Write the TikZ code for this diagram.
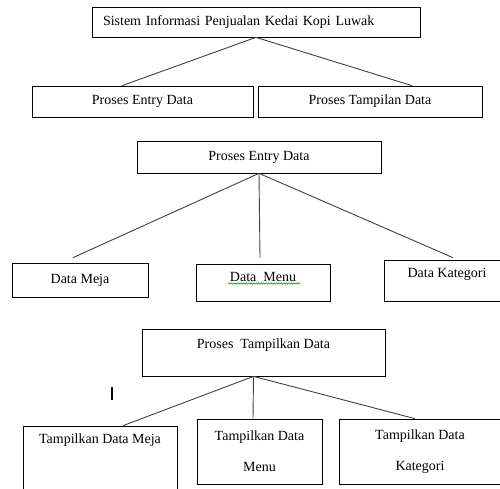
\documentclass[tikz,border=0pt]{standalone}
\usepackage{fontspec}
\setmainfont{Liberation Serif}
\usetikzlibrary{decorations.pathmorphing}
\newcommand{\lift}[2]{\raisebox{#1}[0pt][0pt]{#2}}

\begin{document}
\begin{tikzpicture}[x=1pt, y=-1pt]
            \tikzset{box/.style={draw, line width=0.7pt, inner sep=0pt, minimum width=#1, font={\fontsize{14}{16}\selectfont}}}
            \tikzset{link/.style={draw=black!75, line width=0.9pt}}
            \useasboundingbox (0, 0) rectangle (500, 488);

            \node[box=328pt, minimum height=30pt, text width=306pt, align=left, inner xsep=11pt,
                  font={\fontsize{14}{16}\selectfont\spaceskip=7.4pt}] (sistem) at (256, 22) {Sistem Informasi Penjualan Kedai Kopi Luwak};
            \node[box=221pt, minimum height=31pt] (entry) at (142.5, 101.5) {Proses Entry Data};
            \node[box=224pt, minimum height=31pt] (tampil) at (370, 101.5) {Proses Tampilan Data};
            \draw[link] (sistem.south) -- ([xshift=-20.5pt]entry.north);
            \draw[link] (sistem.south) -- ([xshift=42pt]tampil.north);

            \node[box=244pt, minimum height=32pt] (entrydata) at (259, 157) {Proses Entry Data};
            \node[box=136pt, minimum height=34pt] (meja) at (80, 280) {Data Meja};
            \node[box=134pt, minimum height=37pt] (menu) at (263, 282.5) {\lift{1pt}{Data\ \ Menu}};
            \node[box=126pt, minimum height=41pt] (kategori) at (447, 280.5) {\lift{3pt}{Data Kategori}};
            \draw[link] (entrydata.south) -- ([xshift=-7pt, yshift=5pt]meja.north);
            \draw[link] (entrydata.south) -- ([xshift=-3pt, yshift=6pt]menu.north);
            \draw[link] (entrydata.south) -- ([xshift=6pt, yshift=2pt]kategori.north);
            \draw[green!55!black, line width=0.5pt, decorate, decoration={snake, amplitude=0.7pt, segment length=2.5pt}]
                ([xshift=-35pt, yshift=-1pt]menu.center) -- ([xshift=37pt, yshift=-1pt]menu.center);

            \node[box=243pt, minimum height=47pt] (tampildata) at (263.5, 352.5) {\lift{4pt}{Proses\ \ Tampilkan Data}};
            \node[box=154pt, minimum height=74pt] (tmeja) at (100, 463) {\lift{19.5pt}{Tampilkan Data Meja}};
            \node[box=125pt, minimum height=65pt, align=center, font={\fontsize{14}{31}\selectfont}] (tmenu) at (259.5, 451.5) {Tampilkan Data\\Menu};
            \node[box=162pt, minimum height=65pt, align=center, font={\fontsize{14}{31}\selectfont}] (tkategori) at (420, 451.5) {Tampilkan Data\\Kategori};
            \draw[link] ([xshift=-10pt]tampildata.south) -- ([xshift=23pt]tmeja.north);
            \draw[link] ([xshift=-10pt]tampildata.south) -- ([xshift=-6.5pt]tmenu.north);
            \draw[link] ([xshift=-10pt]tampildata.south) -- ([xshift=-5pt]tkategori.north);

            \draw[line width=1.3pt] (112, 387) -- (112, 400);
        \end{tikzpicture}
\end{document}
